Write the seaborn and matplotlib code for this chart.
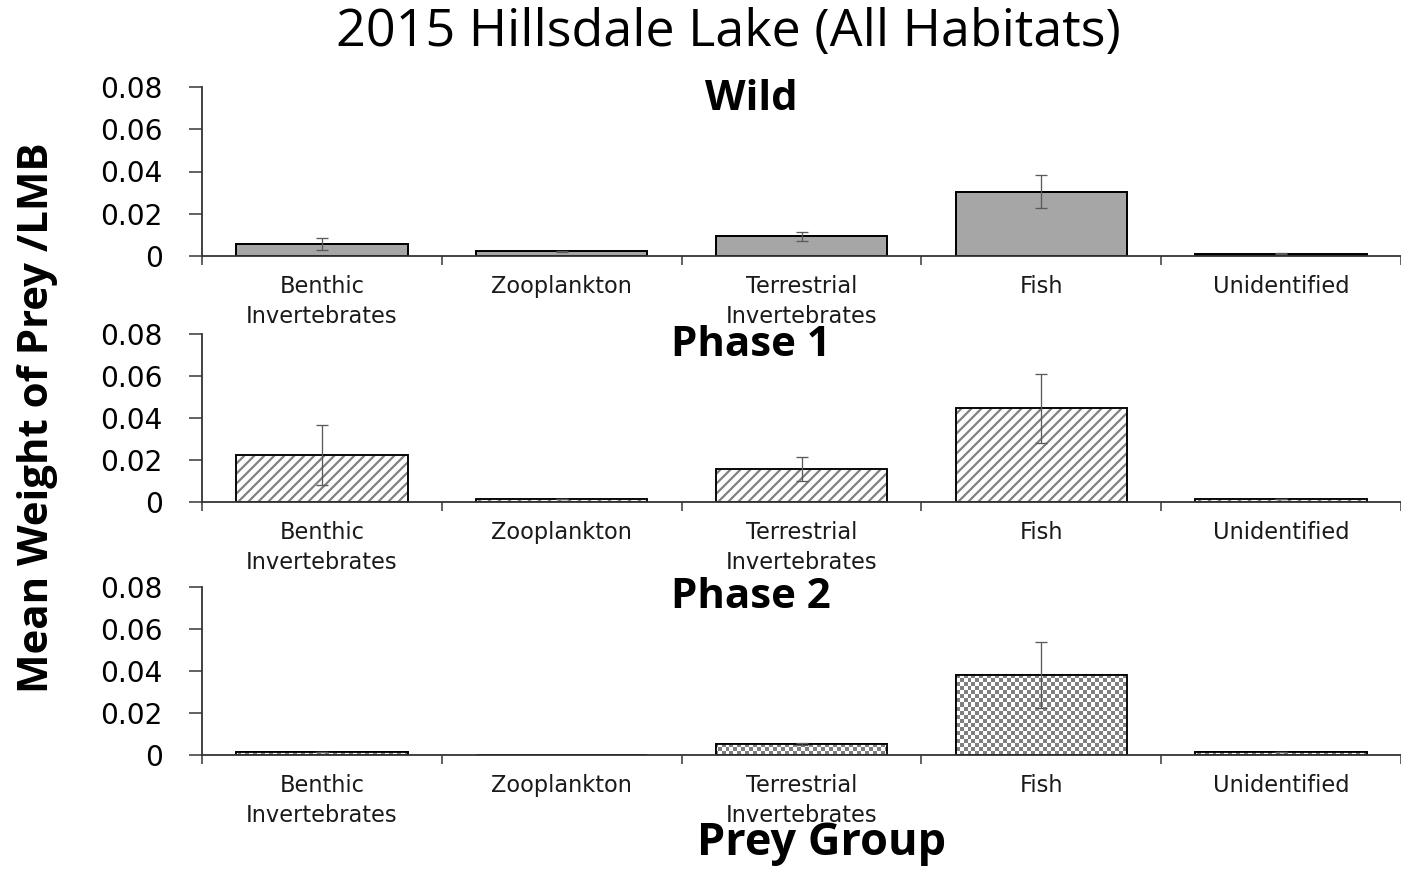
import numpy as np
import pandas as pd
import matplotlib
matplotlib.use("Agg")
import matplotlib.pyplot as plt
from matplotlib.colors import ListedColormap
from matplotlib.patches import Rectangle
import seaborn as sns

# Prey groups along the x axis
categories = ["Benthic\nInvertebrates", "Zooplankton", "Terrestrial\nInvertebrates",
              "Fish", "Unidentified"]

# Mean weight of prey per largemouth bass, with standard errors
wild_mean = [0.0058, 0.0022, 0.0094, 0.0305, 0.0011]
wild_se = [0.0029, 0.0003, 0.0021, 0.0077, 0.0002]
phase1_mean = [0.0224, 0.0014, 0.0155, 0.0446, 0.0014]
phase1_se = [0.0145, 0.0002, 0.0057, 0.0164, 0.0002]
phase2_mean = [0.0014, 0.0, 0.0052, 0.0382, 0.0014]
phase2_se = [0.0002, 0.0, 0.0005, 0.0156, 0.0002]

panel_names = ["Wild", "Phase 1", "Phase 2"]
y_ticks = [0, 0.02, 0.04, 0.06, 0.08]
y_ticklabels = ["0", "0.02", "0.04", "0.06", "0.08"]

sns.set_theme(style="white")
plt.rcParams["font.family"] = ["Open Sans", "DejaVu Sans"]
plt.rcParams["text.color"] = "black"

DPI = 120
W, H = 1401, 869


def pt(px):
    """Convert a size in output pixels to points."""
    return px * 72 / DPI


plt.rcParams["hatch.linewidth"] = pt(2.2)

fig = plt.figure(figsize=(W / DPI, H / DPI), dpi=DPI)

left_px, right_px = 202, 1401
panel_rows = [(87, 256), (334, 502), (587, 755)]  # (top, bottom) in pixels
xlim = (-0.5, 4.455)
ylim = (0, 0.08)

means = [wild_mean, phase1_mean, phase2_mean]
errs = [wild_se, phase1_se, phase2_se]
fills = ["solid", "stripes", "checker"]

bold_family = ["Open Sans", "DejaVu Sans"]
tick_family = ["DejaVu Sans"]
spine_color = "#333333"

for (top, bot), mean, se, fill in zip(panel_rows, means, errs, fills):
    ax = fig.add_axes([left_px / W, 1 - bot / H, (right_px - left_px) / W, (bot - top) / H])
    df = pd.DataFrame({"group": categories, "weight": mean})
    face = "#a6a6a6" if fill == "solid" else "white"
    sns.barplot(data=df, x="group", y="weight", order=categories, color=face,
                saturation=1, width=0.715, errorbar=None, ax=ax,
                edgecolor="black", linewidth=pt(1.8))
    bars = list(ax.patches)

    if fill == "stripes":
        for p in bars:
            p.set_edgecolor("#808080")
            p.set_hatch("////")
    elif fill == "checker":
        ph, pw = bot - top, right_px - left_px
        yy, xx = np.mgrid[0:ph, 0:pw]
        board = ((yy // 4 + xx // 4) % 2).astype(float)
        cmap = ListedColormap(["white", "#7f7f7f"])
        for p in bars:
            if p.get_height() <= 0:
                continue
            im = ax.imshow(board, extent=(xlim[0], xlim[1], ylim[0], ylim[1]),
                           aspect="auto", interpolation="nearest", cmap=cmap,
                           origin="lower", zorder=p.get_zorder() + 0.1)
            im.set_clip_path(p)

    # crisp black outline on every bar
    for p in bars:
        if p.get_height() <= 0:
            continue
        ax.add_patch(Rectangle(p.get_xy(), p.get_width(), p.get_height(), fill=False,
                               edgecolor="black", linewidth=pt(1.8),
                               zorder=p.get_zorder() + 0.2))

    idx = np.array([i for i, m in enumerate(mean) if m > 0])
    ax.errorbar(idx, np.array(mean)[idx], yerr=np.array(se)[idx], fmt="none",
                ecolor="#595959", elinewidth=pt(1.3), capsize=pt(6),
                capthick=pt(1.3), zorder=5)

    ax.set_xlim(*xlim)
    ax.set_ylim(*ylim)
    ax.set_xlabel("")
    ax.set_ylabel("")
    ax.set_yticks(y_ticks)
    ax.set_yticklabels(y_ticklabels, family=tick_family)
    ax.set_xticks(range(len(categories)))
    ax.set_xticklabels(categories, linespacing=1.38, family=tick_family)
    ax.set_xticks(np.arange(-0.5, 4.6, 1.0), minor=True)
    ax.tick_params(axis="y", which="major", left=True, length=pt(13), width=pt(1.5),
                   color=spine_color, pad=pt(26), labelsize=pt(28), labelcolor="black")
    ax.tick_params(axis="x", which="major", bottom=True, length=0, pad=pt(19),
                   labelsize=pt(22.5), labelcolor="#1a1a1a")
    ax.tick_params(axis="x", which="minor", bottom=True, length=pt(9), width=pt(1.5),
                   color=spine_color, direction="out")
    sns.despine(ax=ax, top=True, right=True)
    for side in ("left", "bottom"):
        ax.spines[side].set_color(spine_color)
        ax.spines[side].set_linewidth(pt(1.8))
    ax.patch.set_alpha(0)

fig.text(728 / W, 1 - 32 / H, "2015 Hillsdale Lake (All Habitats)", ha="center",
         va="center", fontsize=pt(52), color="black")
for name, y in zip(panel_names, [99, 346, 598]):
    fig.text(751 / W, 1 - y / H, name, ha="center", va="center", fontsize=pt(42),
             fontweight="bold", family=bold_family, color="black")
fig.text(38 / W, 1 - 418 / H, "Mean Weight of Prey /LMB", ha="center", va="center",
         rotation=90, fontsize=pt(42), fontweight="bold", family=bold_family,
         color="black")
fig.text(822 / W, 1 - 843 / H, "Prey Group", ha="center", va="center",
         fontsize=pt(45), fontweight="bold", family=bold_family, color="black")

fig.savefig("out.png", dpi=DPI)
